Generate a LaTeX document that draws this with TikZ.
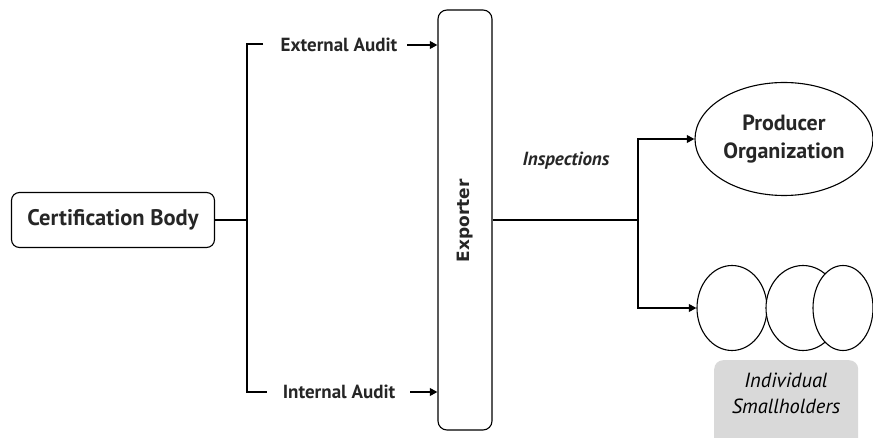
\documentclass[tikz,border=0pt]{standalone}
\usepackage{fontspec}
\setmainfont{PT Sans}
\newfontfamily\dejavu{DejaVu Sans}
\usetikzlibrary{arrows.meta,shapes.geometric}
\definecolor{txt}{HTML}{262626}
\definecolor{graybox}{HTML}{D9D9D9}
\begin{document}
\begin{tikzpicture}[x=1pt,y=-1pt,
  thick line/.style={line width=2.3pt,draw=black},
  arr/.style={thick line,-{Triangle[length=7.5pt,width=7.5pt]}},
  box/.style={draw=black,line width=1.1pt,rounded corners=8pt,fill=white,text=txt},
  lbl/.style={text=txt,font=\bfseries\fontsize{19}{21}\selectfont},
  ell/.style={ellipse,draw=black,line width=1.1pt,fill=white,inner sep=0pt}]
\useasboundingbox (0,0) rectangle (873,438);
% nodes
\node[box,minimum width=203pt,minimum height=55pt,font=\bfseries\fontsize{22.5}{24}\selectfont] (cb) at (113,220) {Certification Body};
\node[box,minimum width=54pt,minimum height=420pt,rounded corners=9pt] (ex) at (465,220) {};
\node[text=txt,rotate=90,font=\dejavu\bfseries\fontsize{17}{18}\selectfont] (exl) at (465,221) {Exporter};
\node[lbl] (ea) at (339,45) {External Audit};
\node[lbl] (ia) at (339,392) {Internal Audit};
\node[lbl,font=\bfseries\itshape\fontsize{19}{21}\selectfont] (insp) at (566,161) {Inspections};
\node[ell,minimum width=178pt,minimum height=113pt,text=txt,align=center,font=\bfseries\fontsize{22}{28}\selectfont] (po) at (784,139) {Producer\\Organization};
\node[ell,minimum width=70pt,minimum height=85pt] (c1) at (732,308) {};
\node[ell,minimum width=74pt,minimum height=85pt] (c2) at (803,308) {};
\node[ell,minimum width=60pt,minimum height=85pt] (c3) at (843,308) {};
\node[fill=graybox,rounded corners=9pt,minimum width=144pt,minimum height=90pt,anchor=north west] (ish) at (714,360) {};
\node[text=black,align=center,font=\itshape\fontsize{20.5}{26}\selectfont] (ishl) at (786,393) {Individual\\Smallholders};
% coordinates
\coordinate (bj) at (247,220);
\coordinate (bt) at (247,44);
\coordinate (bb) at (247,392);
\coordinate (ij) at (638,220);
% connectors
\draw[thick line] (cb.east) -- (bj);
\draw[thick line] (263,44) -- (bt) -- (bb) -- (267,392);
\draw[arr] (407,45) -- (ex.west |- 0,45);
\draw[arr] (410,392) -- (ex.west |- 0,392);
\draw[thick line] (ex.east |- ij) -- (ij);
\draw[arr] (ij) |- (po.west);
\draw[arr] (ij) |- (c1.west);
\end{tikzpicture}
\end{document}
